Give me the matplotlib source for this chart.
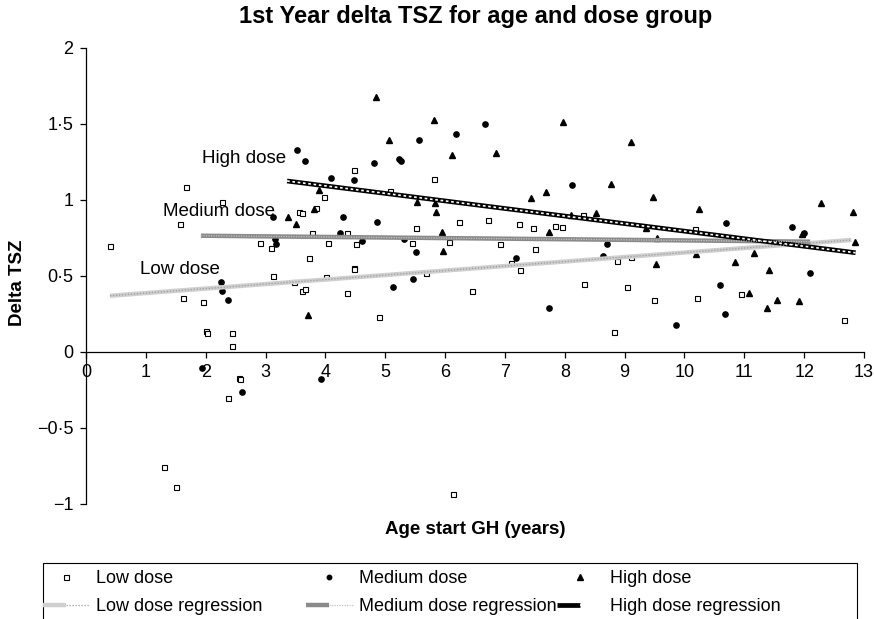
import numpy as np
import matplotlib.pyplot as plt
from matplotlib.lines import Line2D
from matplotlib.patches import Rectangle
from matplotlib.legend_handler import HandlerTuple

plt.rcParams['font.family'] = ['Liberation Sans', 'DejaVu Sans']

# data
low_x = [0.40, 1.30, 1.50, 1.57, 1.62, 1.67, 1.95, 2.00, 2.03, 2.28, 2.38, 2.44, 2.44,
         2.56, 2.58, 2.91, 3.09, 3.13, 3.48, 3.56, 3.61, 3.61, 3.66, 3.72, 3.78, 3.84,
         3.98, 4.01, 4.05, 4.36, 4.36, 4.47, 4.47, 4.48, 4.51, 4.90, 5.08, 5.45, 5.51,
         5.68, 5.82, 6.06, 6.14, 6.23, 6.45, 6.72, 6.92, 7.10, 7.24, 7.26, 7.47, 7.51,
         7.83, 7.95, 8.30, 8.32, 8.83, 8.87, 9.04, 9.10, 9.49, 10.17, 10.21, 10.94, 12.67]
low_y = [0.695, -0.761, -0.892, 0.840, 0.351, 1.081, 0.329, 0.138, 0.121, 0.987, -0.305,
         0.121, 0.036, -0.175, -0.182, 0.717, 0.680, 0.500, 0.461, 0.917, 0.910, 0.401,
         0.410, 0.614, 0.779, 0.947, 1.020, 0.491, 0.717, 0.779, 0.384, 1.195, 0.553,
         0.544, 0.709, 0.226, 1.059, 0.717, 0.812, 0.516, 1.134, 0.724, -0.938, 0.855,
         0.400, 0.864, 0.709, 0.586, 0.840, 0.538, 0.812, 0.678, 0.827, 0.818, 0.899,
         0.445, 0.128, 0.599, 0.424, 0.625, 0.338, 0.807, 0.353, 0.378, 0.209]

med_x = [1.93, 2.26, 2.27, 2.38, 2.60, 3.13, 3.15, 3.17, 3.52, 3.66, 3.93, 4.09, 4.25,
         4.29, 4.47, 4.62, 4.81, 4.86, 5.13, 5.23, 5.27, 5.32, 5.46, 5.51, 5.57, 6.18,
         6.67, 7.18, 7.73, 8.12, 8.64, 8.71, 9.86, 10.60, 10.68, 10.70, 11.80, 12.00, 12.09]
med_y = [-0.105, 0.456, 0.400, 0.338, -0.267, 0.888, 0.739, 0.709, 1.327, 1.253, -0.180,
         1.141, 0.779, 0.888, 1.130, 0.730, 1.244, 0.855, 0.424, 1.266, 1.253, 0.739,
         0.476, 0.654, 1.391, 1.430, 1.500, 0.616, 0.290, 1.097, 0.632, 0.709, 0.174,
         0.439, 0.246, 0.849, 0.820, 0.780, 0.516]

high_x = [3.38, 3.51, 3.71, 3.81, 3.90, 4.84, 5.07, 5.53, 5.81, 5.83, 5.85, 5.95, 5.97,
          6.11, 6.85, 7.44, 7.68, 7.74, 7.97, 8.10, 8.52, 8.78, 9.10, 9.36, 9.47, 9.53,
          9.54, 10.20, 10.24, 10.85, 11.08, 11.16, 11.38, 11.42, 11.55, 11.91, 11.96,
          12.28, 12.81, 12.85]
high_y = [0.888, 0.840, 0.241, 0.940, 1.064, 1.674, 1.393, 0.983, 1.524, 0.976, 0.921,
          0.790, 0.665, 1.292, 1.309, 1.009, 1.053, 0.790, 1.509, 0.900, 0.915, 1.101,
          1.378, 0.812, 1.016, 0.575, 0.750, 0.640, 0.937, 0.590, 0.388, 0.647, 0.288,
          0.535, 0.340, 0.334, 0.772, 0.976, 0.921, 0.720]

# regression line end points
low_reg_x, low_reg_y = [0.40, 12.79], [0.368, 0.735]
med_reg_x, med_reg_y = [1.92, 12.10], [0.763, 0.724]
high_reg_x, high_reg_y = [3.36, 12.86], [1.123, 0.651]

x_ticks = list(range(14))
y_ticks = [-1, -0.5, 0, 0.5, 1, 1.5, 2]
y_tick_labels = ['\u22121', '\u22120\u00b75', '0', '0\u00b75', '1', '1\u00b75', '2']

fig = plt.figure(figsize=(8.75, 6.19), dpi=100)
ax = fig.add_axes([86 / 875, 1 - 503.7 / 619, 778 / 875, 456 / 619])

ax.plot(low_x, low_y, ls='none', marker='s', ms=3.6, mfc='white', mec='black', mew=0.8, zorder=3)
ax.plot(med_x, med_y, ls='none', marker='o', ms=3.8, color='black', zorder=3)
ax.plot(high_x, high_y, ls='none', marker='^', ms=5, color='black', zorder=3)

# pattern-like regression lines: a thick base line and a thin dashed line on top
styles = {
    'low': (dict(color='#cfcfcf', lw=3.2), dict(color='#9c9c9c', lw=0.9, dashes=(1, 1.4))),
    'med': (dict(color='#8a8a8a', lw=3.2), dict(color='#c4c4c4', lw=0.9, dashes=(1, 1))),
    'high': (dict(color='black', lw=3.4), dict(color='white', lw=1.2, dashes=(1.6, 1.6))),
}
for key, xs, ys in [('low', low_reg_x, low_reg_y), ('med', med_reg_x, med_reg_y),
                    ('high', high_reg_x, high_reg_y)]:
    base, top = styles[key]
    ax.plot(xs, ys, solid_capstyle='butt', zorder=4, **base)
    ax.plot(xs, ys, zorder=5, **top)

ax.text(1.93, 1.268, 'High dose', fontsize=13.5, ha='left', va='center')
ax.text(1.29, 0.921, 'Medium dose', fontsize=13.5, ha='left', va='center')
ax.text(0.90, 0.542, 'Low dose', fontsize=13.5, ha='left', va='center')

ax.set_xlim(0, 13)
ax.set_ylim(-1, 2)
ax.spines['left'].set_position(('data', 0))
ax.spines['bottom'].set_position(('data', 0))
ax.spines['top'].set_visible(False)
ax.spines['right'].set_visible(False)
for s in ['left', 'bottom']:
    ax.spines[s].set_linewidth(0.9)
ax.set_xticks(x_ticks)
ax.set_yticks(y_ticks)
ax.set_yticklabels(y_tick_labels)
ax.tick_params(axis='both', direction='out', length=4, width=0.9, labelsize=13, pad=5)

fig.text(0.543, 1 - 17 / 619, '1st Year delta TSZ for age and dose group',
         ha='center', va='center', fontsize=17, fontweight='bold')
fig.text(0.543, 1 - 530 / 619, 'Age start GH (years)', ha='center', va='center',
         fontsize=13.5, fontweight='bold')
fig.text(18 / 875, 1 - 283 / 619, 'Delta TSZ', ha='center', va='center', rotation=90,
         fontsize=13.5, fontweight='bold')


def reg_handle(key):
    base, top = styles[key]
    return (Line2D([], [], solid_capstyle='butt', **base), Line2D([], [], **top))


marker_handles = [
    Line2D([], [], ls='none', marker='s', ms=3.6, mfc='white', mec='black', mew=0.8),
    Line2D([], [], ls='none', marker='o', ms=3.2, color='black'),
    Line2D([], [], ls='none', marker='^', ms=4, color='black'),
]
line_handles = [reg_handle('low'), reg_handle('med'), reg_handle('high')]
names = ['Low dose', 'Medium dose', 'High dose']

# legend box, drawn as three one-column legends inside one frame
fig.patches.append(Rectangle((43 / 875, -0.02), 814 / 875, 1 - 563 / 619 + 0.02,
                             transform=fig.transFigure, fill=False, edgecolor='black',
                             linewidth=0.8))
col_x = [43, 306, 557]
for i in range(3):
    fig.legend([marker_handles[i], line_handles[i]], [names[i], names[i] + ' regression'],
               loc='upper left', bbox_to_anchor=(col_x[i] / 875, 1 - 570 / 619),
               borderaxespad=0, borderpad=0, frameon=False, fontsize=13,
               handlelength=2.6, handletextpad=0.35, labelspacing=0.6,
               handler_map={tuple: HandlerTuple(ndivide=None, pad=0)})

fig.savefig('out.png', dpi=100)
